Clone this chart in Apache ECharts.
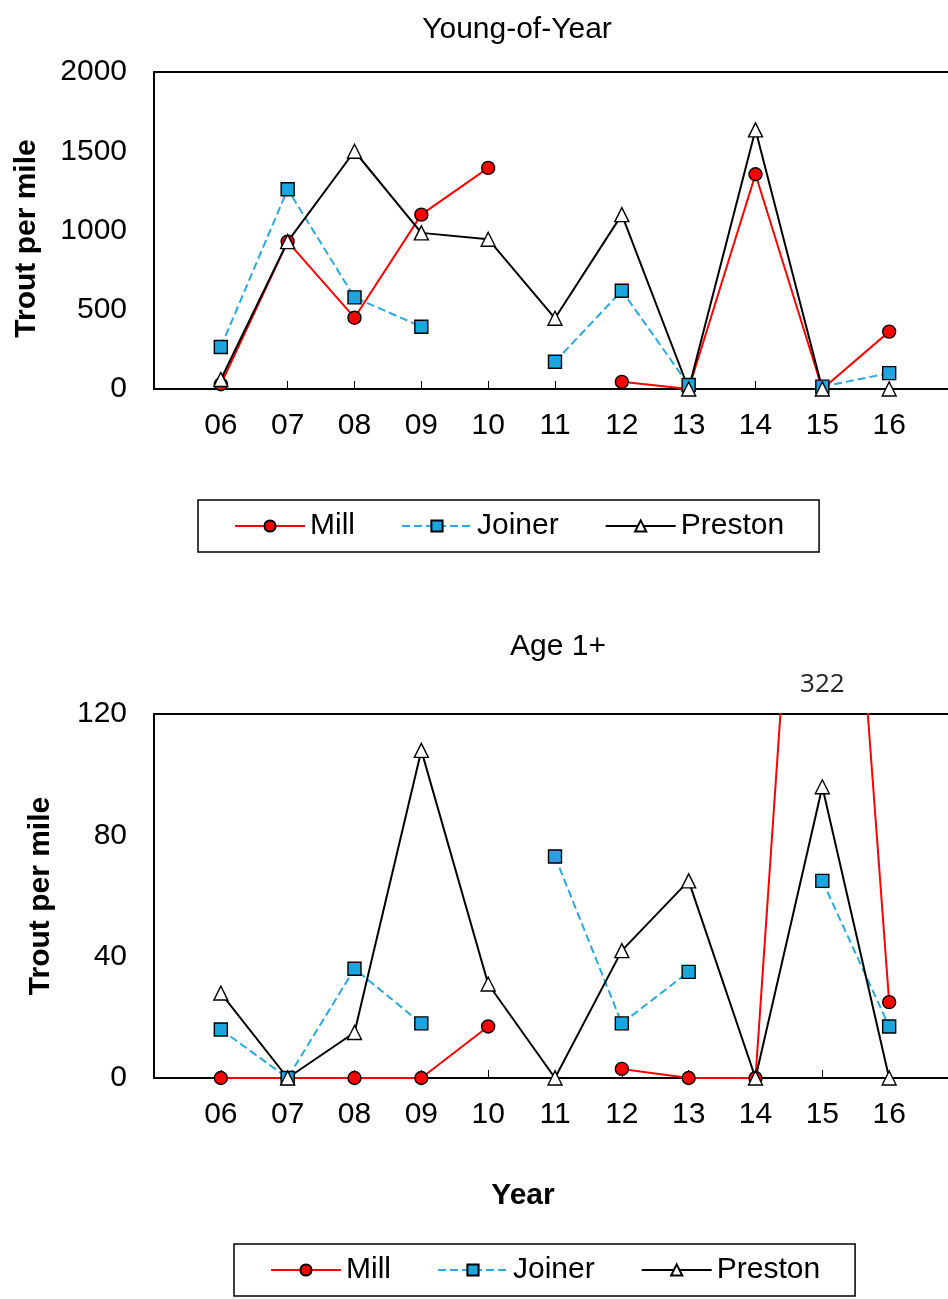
<!DOCTYPE html>
<html>
<head>
<meta charset="utf-8">
<script src="https://cdn.jsdelivr.net/npm/echarts@6/dist/echarts.min.js"></script>
<style>
html,body{margin:0;padding:0;background:#fff;overflow:hidden;}
#chart{width:970px;height:1299px;}
</style>
</head>
<body>
<div id="chart"></div>
<script>
// ---- data ----
const years = ['06','07','08','09','10','11','12','13','14','15','16'];
const seriesNames = ['Mill','Joiner','Preston'];
const millYoy    = [30, 930, 450, 1100, 1395, null, 45, 0, 1355, 0, 362];
const joinerYoy  = [265, 1260, 578, 393, null, 172, 620, 25, null, 15, 100];
const prestonYoy = [60, 930, 1500, 985, 945, 446, 1100, 0, 1635, 0, 0];
const millAge1    = [0, 0, 0, 0, 17, null, 3, 0, 0, 322, 25];
const joinerAge1  = [16, 0, 36, 18, null, 73, 18, 35, null, 65, 17];
const prestonAge1 = [28, 0, 15, 108, 31, 0, 42, 65, 0, 96, 0];
const yoyTicks = [0, 500, 1000, 1500, 2000];
const age1Ticks = [0, 40, 80, 120];
const titles = ['Young-of-Year', 'Age 1+'];
const yName = 'Trout per mile';
const xName = 'Year';

// ---- build ----
const FONT = 'Liberation Sans, Arial, sans-serif';
const FS = 30;
const axisCats = [''].concat(years, ['']);
const pad = arr => [null].concat(arr, [null]);

const styles = {
  Mill:    {color:'#ff0000', symbol:'circle',   size:13, fill:'#ff0000', type:'solid'},
  Joiner:  {color:'#2aa9e0', symbol:'rect',     size:13, fill:'#1ba6e0', type:'dashed'},
  Preston: {color:'#000000', symbol:'triangle', size:14, fill:'#ffffff', type:'solid'}
};

function mkSeries(name, data, idx, extra) {
  const s = styles[name];
  return Object.assign({
    name: name, type: 'line', xAxisIndex: idx, yAxisIndex: idx,
    data: pad(data), symbol: s.symbol, symbolSize: s.size,
    showSymbol: true, connectNulls: false, clip: true,
    lineStyle: {color: s.color, width: 2, type: s.type},
    itemStyle: {color: s.fill, borderColor: '#000', borderWidth: 1.4},
    emphasis: {disabled: true}, animation: false
  }, extra || {});
}

function xAxis(idx) {
  return {
    type: 'category', gridIndex: idx, data: axisCats, boundaryGap: false,
    axisLine: {lineStyle: {color: '#000', width: 2}},
    axisTick: {show: true, inside: true, length: 8, interval: 0, lineStyle: {color: '#000', width: 1}},
    axisLabel: {interval: 0, color: '#000', fontSize: FS, fontFamily: FONT, margin: 22},
    splitLine: {show: false},
    name: idx === 1 ? xName : '', nameLocation: 'middle', nameGap: 103,
    nameTextStyle: {fontSize: FS, fontWeight: 'bold', color: '#000', fontFamily: FONT,
                    padding: [0, 64, 0, 0]}
  };
}
function yAxis(idx, ticks) {
  return {
    type: 'value', gridIndex: idx, min: ticks[0], max: ticks[ticks.length-1],
    interval: ticks[1] - ticks[0],
    axisLine: {show: true, lineStyle: {color: '#000', width: 2}},
    axisTick: {show: false},
    axisLabel: {color: '#000', fontSize: FS, fontFamily: FONT, margin: 27, formatter: v => String(v)},
    splitLine: {show: false},
    name: yName, nameLocation: 'middle', nameRotate: 90, nameGap: idx === 0 ? 112 : 98,
    nameTextStyle: {fontSize: FS, fontWeight: 'bold', color: '#000', fontFamily: FONT,
                    padding: idx === 0 ? [0, 16, 0, 0] : 0}
  };
}

const legendBase = {
  orient: 'horizontal', data: seriesNames,
  borderColor: '#000', borderWidth: 1.5, padding: [11, 35, 11, 36],
  itemGap: 46, itemWidth: 70, itemHeight: 14,
  textStyle: {fontSize: FS, color: '#000', fontFamily: FONT},
  selectedMode: false
};

const option = {
  backgroundColor: '#fff',
  animation: false,
  title: [
    {text: titles[0], left: 512, top: 10, textAlign: 'center',
     textStyle: {fontSize: FS, fontWeight: 'normal', color: '#000', fontFamily: FONT}},
    {text: titles[1], left: 553, top: 627, textAlign: 'center',
     textStyle: {fontSize: FS, fontWeight: 'normal', color: '#000', fontFamily: FONT}}
  ],
  grid: [
    {left: 154, top: 72, right: 14, height: 317, show: true, borderColor: '#000', borderWidth: 2, containLabel: false},
    {left: 154, top: 714, right: 14, height: 364, show: true, borderColor: '#000', borderWidth: 2, containLabel: false}
  ],
  legend: [
    Object.assign({left: 198, top: 500}, legendBase),
    Object.assign({left: 234, top: 1244}, legendBase)
  ],
  xAxis: [xAxis(0), xAxis(1)],
  yAxis: [yAxis(0, yoyTicks), yAxis(1, age1Ticks)],
  series: [
    mkSeries('Mill', millYoy, 0),
    mkSeries('Joiner', joinerYoy, 0),
    mkSeries('Preston', prestonYoy, 0),
    mkSeries('Mill', millAge1, 1, {
      markPoint: {
        symbol: 'circle', symbolSize: 0, silent: true,
        data: [{coord: [years[9], age1Ticks[age1Ticks.length-1]], value: millAge1[9]}],
        label: {show: true, position: 'top', distance: 16, formatter: '{c}',
                color: '#222', fontSize: 26, fontFamily: 'Open Sans, sans-serif'}
      }
    }),
    mkSeries('Joiner', joinerAge1, 1),
    mkSeries('Preston', prestonAge1, 1)
  ]
};

const chart = echarts.init(document.getElementById('chart'), null, {renderer: 'canvas'});
chart.setOption(option);
</script>
</body>
</html>
